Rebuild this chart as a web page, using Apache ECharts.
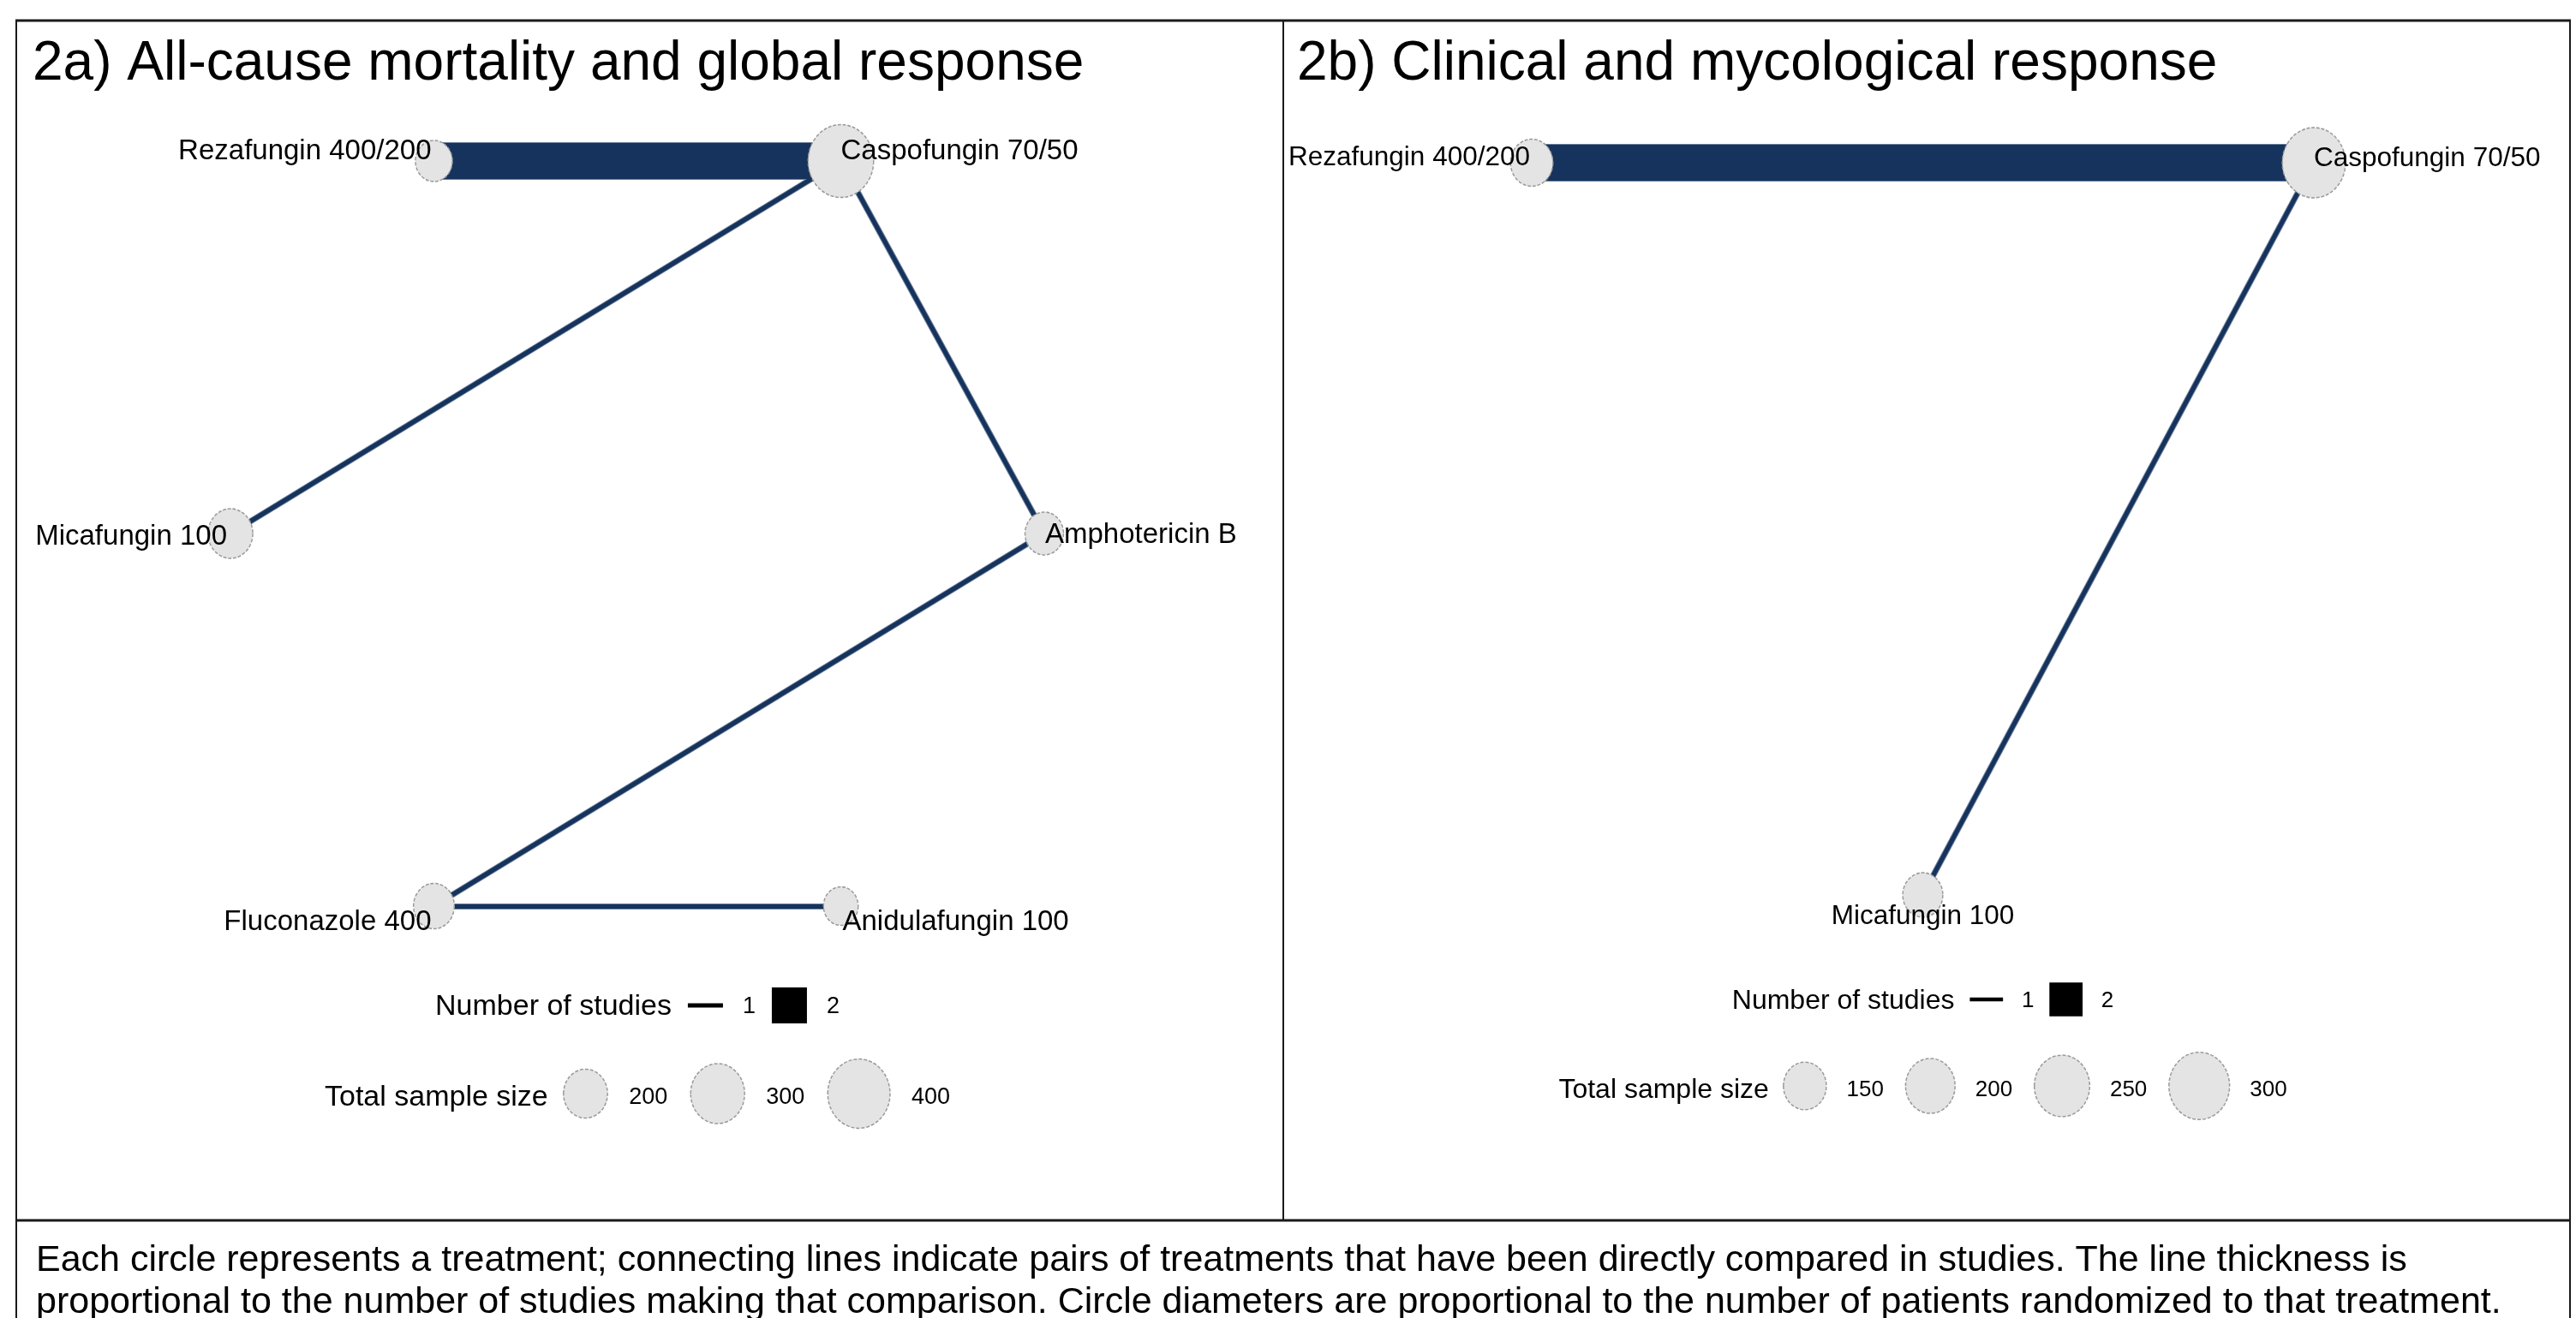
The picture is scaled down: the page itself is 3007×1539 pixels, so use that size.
<!DOCTYPE html>
<html><head><meta charset="utf-8">
<script src="https://cdn.jsdelivr.net/npm/echarts@6/dist/echarts.min.js"></script>
<style>html,body{margin:0;padding:0;background:#fff}#c{width:3007px;height:1539px}</style>
</head><body><div id="c"></div>
<script>
// ---------------- data ----------------
const titleA = '2a) All-cause mortality and global response';
const titleB = '2b) Clinical and mycological response';

const nodesA = ['Rezafungin 400/200', 'Caspofungin 70/50', 'Micafungin 100', 'Amphotericin B', 'Fluconazole 400', 'Anidulafungin 100'];
const layoutXA = [-0.5, 0.5, -1, 1, -0.5, 0.5];
const layoutYA = [0.866, 0.866, 0, 0, -0.866, -0.866];
const sampleA = [141, 443, 206, 153, 172, 124];
const edgeFromA = ['Rezafungin 400/200', 'Caspofungin 70/50', 'Caspofungin 70/50', 'Amphotericin B', 'Fluconazole 400'];
const edgeToA = ['Caspofungin 70/50', 'Micafungin 100', 'Amphotericin B', 'Fluconazole 400', 'Anidulafungin 100'];
const studiesA = [2, 1, 1, 1, 1];

const nodesB = ['Rezafungin 400/200', 'Caspofungin 70/50', 'Micafungin 100'];
const layoutXB = [-0.866, 0.866, 0];
const layoutYB = [0.5, 0.5, -1];
const sampleB = [147, 326, 131];
const edgeFromB = ['Rezafungin 400/200', 'Caspofungin 70/50'];
const edgeToB = ['Caspofungin 70/50', 'Micafungin 100'];
const studiesB = [2, 1];

const legendStudies = [1, 2];
const legendSizesA = [200, 300, 400];
const legendSizesB = [150, 200, 250, 300];

const captionLines = [
  'Each circle represents a treatment; connecting lines indicate pairs of treatments that have been directly compared in studies. The line thickness is',
  'proportional to the number of studies making that comparison. Circle diameters are proportional to the number of patients randomized to that treatment.'
];

// ---------------- styles / layout ----------------
const FONT = '"Liberation Sans", Arial, Helvetica, sans-serif';
const EDGE_COLOR = '#15335c';
const NODE_FILL = '#e4e4e4';
const NODE_STROKE = '#9a9a9a';
const ASPECT = 0.9; // circles appear slightly narrower than tall
const ELLIPSE = 'path://M100,0 C100,55.2 55.2,100 0,100 C-55.2,100 -100,55.2 -100,0 C-100,-55.2 -55.2,-100 0,-100 C55.2,-100 100,-55.2 100,0 Z';

function edgeWidth(n) { return 5 + (n - 1) * 37; }

const panelA = {
  grid: { left: 269, top: 188, width: 950, height: 870 },
  xr: [-1, 1], yr: [-0.866, 0.866], k: 2.02,
  labelFont: 33,
  labels: [
    { align: 'right', dx: -3, dy: -11 }, { align: 'left', dx: 0, dy: -11 },
    { align: 'right', dx: -4, dy: 4 }, { align: 'left', dx: 1, dy: 2 },
    { align: 'right', dx: -3, dy: 19 }, { align: 'left', dx: 2, dy: 19 }
  ],
  s: 1, studiesY: 1176, sizeY: 1279, legendFont: 34, numFont: 27,
  titleX: 38
};
const panelB = {
  grid: { left: 1788, top: 190, width: 913, height: 855 },
  xr: [-0.866, 0.866], yr: [-1, 0.5], k: 2.27,
  labelFont: 31.5,
  labels: [
    { align: 'right', dx: -2, dy: -6 }, { align: 'left', dx: 0, dy: -5 },
    { align: 'center', dx: 0, dy: 25 }
  ],
  s: 0.945, studiesY: 1169, sizeY: 1270, legendFont: 32, numFont: 26,
  titleX: 1514
};

// ---------------- helpers ----------------
const mctx = document.createElement('canvas').getContext('2d');
function tw(t, size) { mctx.font = size + 'px ' + FONT; return mctx.measureText(t).width; }

function nodeSeries(idx, p, names, xs, ys, ns) {
  return {
    type: 'scatter', xAxisIndex: idx, yAxisIndex: idx, z: 5, silent: true, clip: false,
    symbol: ELLIPSE,
    symbolSize: function (v) { const h = 2 * p.k * Math.sqrt(v[2]); return [h * ASPECT, h]; },
    itemStyle: { color: NODE_FILL, borderColor: NODE_STROKE, borderWidth: 1.5, borderType: [4, 2], opacity: 1 },
    label: { show: true, position: 'inside', color: '#000', fontSize: p.labelFont, fontFamily: FONT,
      formatter: function (q) { return q.data.name; } },
    emphasis: { disabled: true },
    data: names.map(function (nm, i) {
      return { name: nm, value: [xs[i], ys[i], ns[i]],
        label: { align: p.labels[i].align, offset: [p.labels[i].dx, p.labels[i].dy] } };
    })
  };
}

function edgeSeries(idx, names, xs, ys, from, to, studies, under) {
  return {
    type: 'lines', coordinateSystem: 'cartesian2d', xAxisIndex: idx, yAxisIndex: idx,
    z: under ? 1 : 2, silent: true, polyline: false, clip: false,
    lineStyle: { color: under ? '#6d809c' : EDGE_COLOR, opacity: 1, cap: 'butt' },
    data: from.map(function (f, i) {
      const a = names.indexOf(f), b = names.indexOf(to[i]);
      return { coords: [[xs[a], ys[a]], [xs[b], ys[b]]],
        lineStyle: { width: edgeWidth(studies[i]) + (under ? 2 : 0) } };
    })
  };
}

function txt(t, x, y, size, align) {
  return { type: 'text', silent: true, z: 10,
    style: { text: t, x: x, y: y, font: size + 'px ' + FONT, fill: '#000',
      textAlign: align || 'left', align: align || 'left', textVerticalAlign: 'middle', verticalAlign: 'middle' } };
}

function legendGraphics(p, sizes) {
  const out = [];
  const cx = p.grid.left + p.grid.width / 2;
  const s = p.s;
  // Number of studies row
  const segLen = 41 * s;
  let parts = [{ k: 't', t: 'Number of studies', f: p.legendFont }];
  legendStudies.forEach(function (n) {
    parts.push({ k: 'g', w: 19 * s });
    parts.push({ k: 'seg', n: n, w: segLen });
    parts.push({ k: 'g', w: 23 * s });
    parts.push({ k: 't', t: String(n), f: p.numFont });
  });
  parts.forEach(function (q) { if (q.k === 't') q.w = tw(q.t, q.f); });
  let total = parts.reduce(function (a, q) { return a + q.w; }, 0);
  let x = cx - total / 2;
  parts.forEach(function (q) {
    if (q.k === 't') out.push(txt(q.t, x, p.studiesY, q.f));
    else if (q.k === 'seg') {
      const lw = edgeWidth(q.n) * s;
      out.push({ type: 'rect', silent: true, z: 10, shape: { x: x, y: p.studiesY - 2 - lw / 2, width: q.w, height: lw }, style: { fill: '#000' } });
    }
    x += q.w;
  });
  // Total sample size row
  parts = [{ k: 't', t: 'Total sample size', f: p.legendFont }];
  sizes.forEach(function (v, i) {
    const ry = p.k * Math.sqrt(v);
    parts.push({ k: 'g', w: (i === 0 ? 18 : 27) * s });
    parts.push({ k: 'c', ry: ry, w: 2 * ry * ASPECT });
    parts.push({ k: 'g', w: 25 * s });
    parts.push({ k: 't', t: String(v), f: p.numFont });
  });
  parts.forEach(function (q) { if (q.k === 't') q.w = tw(q.t, q.f); });
  total = parts.reduce(function (a, q) { return a + q.w; }, 0);
  x = cx - total / 2;
  parts.forEach(function (q) {
    if (q.k === 't') out.push(txt(q.t, x, p.sizeY + 3, q.f));
    else if (q.k === 'c') {
      out.push({ type: 'ellipse', silent: true, z: 10, shape: { cx: x + q.w / 2, cy: p.sizeY - 2, rx: q.w / 2, ry: q.ry },
        style: { fill: NODE_FILL, stroke: NODE_STROKE, lineWidth: 1.5, lineDash: [4, 2] } });
    }
    x += q.w;
  });
  return out;
}

function hline(x1, x2, y, w) { return { type: 'line', silent: true, z: 20, shape: { x1: x1, y1: y, x2: x2, y2: y }, style: { stroke: '#1a1a1a', lineWidth: w } }; }
function vline(x, y1, y2, w) { return { type: 'line', silent: true, z: 20, shape: { x1: x, y1: y1, x2: x, y2: y2 }, style: { stroke: '#1a1a1a', lineWidth: w } }; }

// ---------------- chart ----------------
const chart = echarts.init(document.getElementById('c'), null, { renderer: 'canvas' });

const graphics = [
  hline(18, 3001, 24, 3), vline(19, 23, 1539, 2), vline(3000, 23, 1539, 2),
  vline(1498, 24, 1425, 2), hline(18, 3001, 1425, 3),
  txt(titleA, panelA.titleX, 75, 64), txt(titleB, panelB.titleX, 75, 64),
  txt(captionLines[0], 42, 1472, 43), txt(captionLines[1], 42, 1521, 43)
].concat(legendGraphics(panelA, legendSizesA), legendGraphics(panelB, legendSizesB));

function axisX(i, p) { return { type: 'value', gridIndex: i, min: p.xr[0], max: p.xr[1], show: false }; }
function axisY(i, p) { return { type: 'value', gridIndex: i, min: p.yr[0], max: p.yr[1], show: false }; }

chart.setOption({
  backgroundColor: '#ffffff',
  animation: false,
  grid: [Object.assign({}, panelA.grid), Object.assign({}, panelB.grid)],
  xAxis: [axisX(0, panelA), axisX(1, panelB)],
  yAxis: [axisY(0, panelA), axisY(1, panelB)],
  series: [
    edgeSeries(0, nodesA, layoutXA, layoutYA, edgeFromA, edgeToA, studiesA, true),
    edgeSeries(0, nodesA, layoutXA, layoutYA, edgeFromA, edgeToA, studiesA, false),
    nodeSeries(0, panelA, nodesA, layoutXA, layoutYA, sampleA),
    edgeSeries(1, nodesB, layoutXB, layoutYB, edgeFromB, edgeToB, studiesB, true),
    edgeSeries(1, nodesB, layoutXB, layoutYB, edgeFromB, edgeToB, studiesB, false),
    nodeSeries(1, panelB, nodesB, layoutXB, layoutYB, sampleB)
  ],
  graphic: graphics
});
</script></body></html>
